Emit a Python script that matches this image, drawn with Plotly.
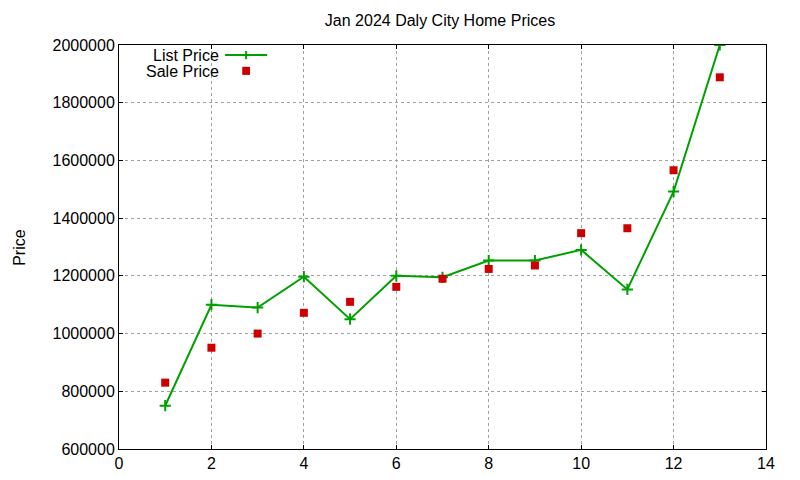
import plotly.graph_objects as go

# data
lots = list(range(1, 14))
list_price = [750000, 1100000, 1090000, 1197000, 1050000, 1200000, 1195000,
              1253000, 1253000, 1290000, 1153000, 1492000, 2000000]
sale_price = [830000, 951000, 1000000, 1072000, 1110000, 1162000, 1190000,
              1224000, 1236000, 1348000, 1365000, 1566000, 1888000]

x_ticks = list(range(0, 15, 2))
y_ticks = list(range(600000, 2000001, 200000))

green = "#00a000"
red = "#cc0000"
font = "Liberation Sans, Arial, sans-serif"

fig = go.Figure()

fig.add_trace(go.Scatter(
    x=lots, y=list_price, name="List Price",
    mode="lines+markers",
    line=dict(color=green, width=2),
    marker=dict(symbol="cross-thin", size=8, line=dict(color=green, width=2)),
    showlegend=False,
))
fig.add_trace(go.Scatter(
    x=lots, y=sale_price, name="Sale Price",
    mode="markers",
    marker=dict(symbol="square", size=8, color=red),
    showlegend=False,
))

axis_style = dict(
    showline=True, linecolor="black", linewidth=1, mirror="allticks",
    ticks="inside", ticklen=4, tickcolor="black",
    showgrid=True, gridcolor="#a0a0a0", griddash="dot", gridwidth=1,
    zeroline=False, tickfont=dict(size=16, color="black", family=font),
)

fig.update_xaxes(range=[0, 14], tickvals=x_ticks, **axis_style)
fig.update_yaxes(range=[600000, 2000000], tickvals=y_ticks, tickformat="d",
                 **axis_style)

# y axis title
fig.add_annotation(xref="paper", yref="paper", x=-0.171, y=0.5, xanchor="left",
                   yanchor="middle", showarrow=False, text="Price", textangle=-90,
                   font=dict(size=16, color="black", family=font))

# gnuplot-style key: text on the left, sample on the right
fig.add_annotation(xref="paper", yref="paper", x=0.157, y=0.975, xanchor="right",
                   yanchor="middle", showarrow=False, text="List Price", height=14,
                   font=dict(size=16, color="black", family=font))
fig.add_annotation(xref="paper", yref="paper", x=0.157, y=0.936, xanchor="right",
                   yanchor="middle", showarrow=False, text="Sale Price", height=14,
                   font=dict(size=16, color="black", family=font))
fig.add_shape(type="line", xref="paper", yref="paper", x0=0.164, x1=0.229,
              y0=0.975, y1=0.975, line=dict(color=green, width=2))
fig.add_shape(type="line", xref="paper", yref="paper", x0=0.1965, x1=0.1965,
              y0=0.965, y1=0.985, line=dict(color=green, width=2))
fig.add_shape(type="rect", xref="paper", yref="paper", x0=0.1905, x1=0.2025,
              y0=0.926, y1=0.946, line=dict(width=0), fillcolor=red)

fig.update_layout(
    width=800, height=480,
    margin=dict(l=111, r=42, t=37, b=39),
    paper_bgcolor="white", plot_bgcolor="white",
    title=dict(text="Jan 2024 Daly City Home Prices", x=0.54, xanchor="center",
               y=0.975, yanchor="middle",
               font=dict(size=16, color="black", family=font)),
    font=dict(family=font, color="black"),
)

fig.write_html("out.html")
